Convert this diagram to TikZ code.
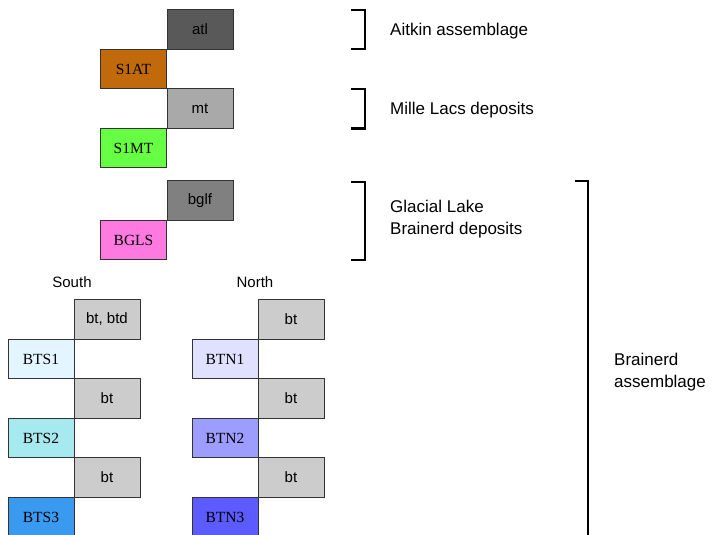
\documentclass[tikz,border=0pt]{standalone}
\usepackage{fontspec}
\setmainfont{Liberation Serif}
\setsansfont{Liberation Sans}
\definecolor{cAtl}{HTML}{595959}
\definecolor{cSAT}{HTML}{C06A0B}
\definecolor{cMt}{HTML}{A9A9A9}
\definecolor{cSMT}{HTML}{66FF44}
\definecolor{cBglf}{HTML}{808080}
\definecolor{cBGLS}{HTML}{FF7AE0}
\definecolor{cBt}{HTML}{CCCCCC}
\definecolor{cBTSa}{HTML}{E3F6FF}
\definecolor{cBTSb}{HTML}{A6E9EE}
\definecolor{cBTSc}{HTML}{3A9AF0}
\definecolor{cBTNa}{HTML}{E0E0FF}
\definecolor{cBTNb}{HTML}{9D9DFF}
\definecolor{cBTNc}{HTML}{5B5BFF}
\definecolor{edge}{HTML}{333333}
\tikzset{
  unitbox/.style={draw=edge, line width=0.9pt, minimum width=66pt, minimum height=39.5pt, inner sep=0pt, outer sep=0pt},
  sbox/.style={unitbox, font=\fontsize{15}{18}\sffamily\selectfont},
  rbox/.style={unitbox, font=\fontsize{15.5}{18}\rmfamily\selectfont},
  lbl/.style={anchor=west, inner sep=0pt, font=\fontsize{17}{21}\sffamily\selectfont, align=left},
  head/.style={inner sep=0pt, font=\fontsize{15}{18}\sffamily\selectfont},
  brk/.style={draw=black, line width=2pt}
}
\begin{document}
\begin{tikzpicture}[x=1pt,y=-1pt]
\useasboundingbox (0,0) rectangle (721,535);
% upper stack
\node[sbox, fill=cAtl] (atl) at (200,29.5) {atl};
\node[rbox, fill=cSAT] (s1at) at (133.5,69) {S1AT};
\node[sbox, fill=cMt] (mt) at (200,108.5) {mt};
\node[rbox, fill=cSMT] (s1mt) at (133.5,148) {S1MT};
\node[sbox, fill=cBglf] (bglf) at (200,200.5) {bglf};
\node[rbox, fill=cBGLS] (bgls) at (133.5,240) {BGLS};
% South
\node[head] (south) at (72,282) {South};
\node[sbox, fill=cBt] (sbt1) at (107,319.5) {bt, btd};
\node[rbox, fill=cBTSa] (bts1) at (41,359) {BTS1};
\node[sbox, fill=cBt] (sbt2) at (107,398.5) {bt};
\node[rbox, fill=cBTSb] (bts2) at (41,438) {BTS2};
\node[sbox, fill=cBt] (sbt3) at (107,477.5) {bt};
\node[rbox, fill=cBTSc, minimum height=40pt] (bts3) at (41,517) {BTS3};
% North
\node[head] (north) at (255,282) {North};
\node[sbox, fill=cBt] (nbt1) at (291,319.5) {bt};
\node[rbox, fill=cBTNa] (btn1) at (225,359) {BTN1};
\node[sbox, fill=cBt] (nbt2) at (291,398.5) {bt};
\node[rbox, fill=cBTNb] (btn2) at (225,438) {BTN2};
\node[sbox, fill=cBt] (nbt3) at (291,477.5) {bt};
\node[rbox, fill=cBTNc, minimum height=40pt] (btn3) at (225,517) {BTN3};
% brackets
\draw[brk] (351,10) -- (365,10) -- (365,49.5) -- (351,49.5);
\draw[brk] (351,89) -- (365,89) -- (365,128.5) -- (351,128.5);
\draw[brk] (351,182) -- (365,182) -- (365,260) -- (351,260);
\draw[brk] (575,181) -- (588,181) -- (588,540);
% labels
\node[lbl] (laitkin) at (390,31.5) {Aitkin assemblage};
\node[lbl] (lmille) at (390,110) {Mille Lacs deposits};
\node[lbl] (lglacial) at (390,219) {Glacial Lake\\[1pt]Brainerd deposits};
\node[lbl] (lbrain) at (614,372) {Brainerd\\[1pt]assemblage};
\end{tikzpicture}
\end{document}
